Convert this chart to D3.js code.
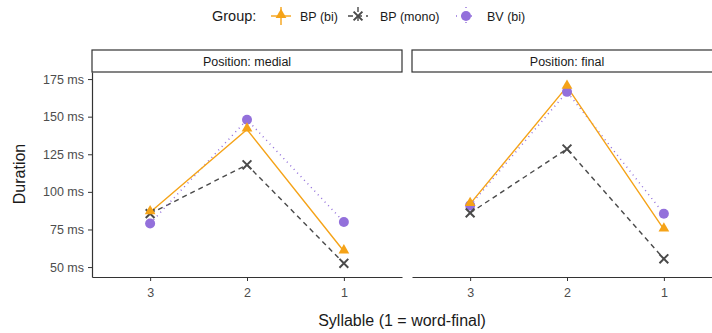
<!DOCTYPE html>
<html>
<head>
<meta charset="utf-8">
<script src="https://cdn.jsdelivr.net/npm/d3@7"></script>
<style>
  body { margin: 0; background: #fff; }
  svg { font-family: "Liberation Sans", Arial, sans-serif; }
</style>
</head>
<body>
<svg width="712" height="333"></svg>
<script>
var syllables = ["3", "2", "1"];
var positions = ["medial", "final"];
var groups = ["BP (bi)", "BP (mono)", "BV (bi)"];

// durations (ms) per syllable 3,2,1
var bpBiMedial = [86.5, 141.5, 60.5];
var bpMonoMedial = [85.5, 118, 52.5];
var bvBiMedial = [79, 148, 80];
var bpBiFinal = [92, 170, 75];
var bpMonoFinal = [86, 128.5, 55.5];
var bvBiFinal = [91, 166.5, 85.5];

var yTicks = [50, 75, 100, 125, 150, 175];

var series = {
  medial: [bpBiMedial, bpMonoMedial, bvBiMedial],
  final: [bpBiFinal, bpMonoFinal, bvBiFinal]
};

var colors = ["#F5A318", "#4a4a4a", "#9370DB"];
var dashes = [null, "5,4", "1,4"];

var svg = d3.select("svg");

var plotTop = 72, plotBottom = 277, panelW = 310;
var panelX = { medial: 92, final: 412 };

var y = d3.scaleLinear().domain([43.4, 179.7]).range([plotBottom, plotTop]);

function drawShape(sel, i, cx, cy) {
  if (i === 0) {
    sel.append("path")
      .attr("d", d3.symbol().type(d3.symbolTriangle).size(50)())
      .attr("transform", "translate(" + cx + "," + (cy - 1) + ")")
      .attr("fill", colors[0]);
  } else if (i === 1) {
    var s = 4.4;
    sel.append("path")
      .attr("d", "M" + (cx - s) + "," + (cy - s) + "L" + (cx + s) + "," + (cy + s) +
        "M" + (cx - s) + "," + (cy + s) + "L" + (cx + s) + "," + (cy - s))
      .attr("stroke", colors[1]).attr("stroke-width", 2);
  } else {
    sel.append("circle").attr("cx", cx).attr("cy", cy).attr("r", 5)
      .attr("fill", colors[2]);
  }
}

// legend
var leg = svg.append("g").attr("transform", "translate(0,16)");
leg.append("text").attr("x", 212).attr("y", 5).attr("font-size", 14.5)
  .attr("fill", "#1a1a1a").text("Group:");
var legX = [281, 358, 466];
var legTx = [300, 380, 487];
groups.forEach(function(g, i) {
  var k = leg.append("g").attr("transform", "translate(" + legX[i] + ",0)");
  k.append("line").attr("x1", -10).attr("x2", 10).attr("y1", 0).attr("y2", 0)
    .attr("stroke", colors[i]).attr("stroke-width", 1.4)
    .attr("stroke-dasharray", dashes[i]);
  k.append("line").attr("x1", 0).attr("x2", 0).attr("y1", -9).attr("y2", 9)
    .attr("stroke", colors[i]).attr("stroke-width", 1.4)
    .attr("stroke-dasharray", dashes[i]);
  drawShape(k, i, 0, 0);
  leg.append("text").attr("x", legTx[i]).attr("y", 4.5).attr("font-size", 12.5)
    .attr("fill", "#1a1a1a").text(g);
});

positions.forEach(function(pos) {
  var x0 = panelX[pos];
  var x = d3.scalePoint().domain(syllables).range([x0, x0 + panelW]).padding(0.6);
  var g = svg.append("g");

  // strip
  g.append("rect").attr("x", x0).attr("y", 50).attr("width", panelW).attr("height", 22)
    .attr("fill", "#fff").attr("stroke", "#333").attr("stroke-width", 1.2);
  g.append("text").attr("x", x0 + panelW / 2).attr("y", 65.5)
    .attr("text-anchor", "middle").attr("font-size", 12.5).attr("fill", "#1a1a1a")
    .text("Position: " + pos);

  // x axis
  var xa = g.append("g").attr("transform", "translate(0," + plotBottom + ")")
    .call(d3.axisBottom(x).tickSize(4).tickPadding(7).tickSizeOuter(0));
  xa.select(".domain").attr("stroke", "#333").attr("stroke-width", 1.2);
  xa.selectAll(".tick line").attr("stroke", "#333");
  xa.selectAll("text").attr("font-size", 12.5).attr("fill", "#4d4d4d")
    .attr("font-family", "Liberation Sans, Arial, sans-serif");

  if (pos === "medial") {
    var ya = g.append("g").attr("transform", "translate(" + x0 + ",0)")
      .call(d3.axisLeft(y).tickValues(yTicks).tickSize(4).tickPadding(4).tickSizeOuter(0)
        .tickFormat(function(d) { return d + " ms"; }));
    ya.select(".domain").attr("stroke", "#333").attr("stroke-width", 1.2);
    ya.selectAll(".tick line").attr("stroke", "#333");
    ya.selectAll("text").attr("font-size", 12.5).attr("fill", "#4d4d4d")
      .attr("font-family", "Liberation Sans, Arial, sans-serif");
  }

  var line = d3.line()
    .x(function(d, j) { return x(syllables[j]); })
    .y(function(d) { return y(d); });

  // draw mono first, then bv, then bi on top
  [1, 2, 0].forEach(function(i) {
    g.append("path").datum(series[pos][i])
      .attr("d", line).attr("fill", "none")
      .attr("stroke", colors[i]).attr("stroke-width", i === 2 ? 1.5 : 1.4)
      .attr("stroke-dasharray", dashes[i]);
  });
  [2, 1, 0].forEach(function(i) {
    series[pos][i].forEach(function(v, j) {
      drawShape(g, i, x(syllables[j]), y(v));
    });
  });
});

// axis titles
svg.append("text").attr("x", 402).attr("y", 326).attr("text-anchor", "middle")
  .attr("font-size", 16).attr("fill", "#1a1a1a").text("Syllable (1 = word-final)");
svg.append("text").attr("transform", "translate(25,174) rotate(-90)")
  .attr("text-anchor", "middle").attr("font-size", 16).attr("fill", "#1a1a1a")
  .text("Duration");
</script>
</body>
</html>
